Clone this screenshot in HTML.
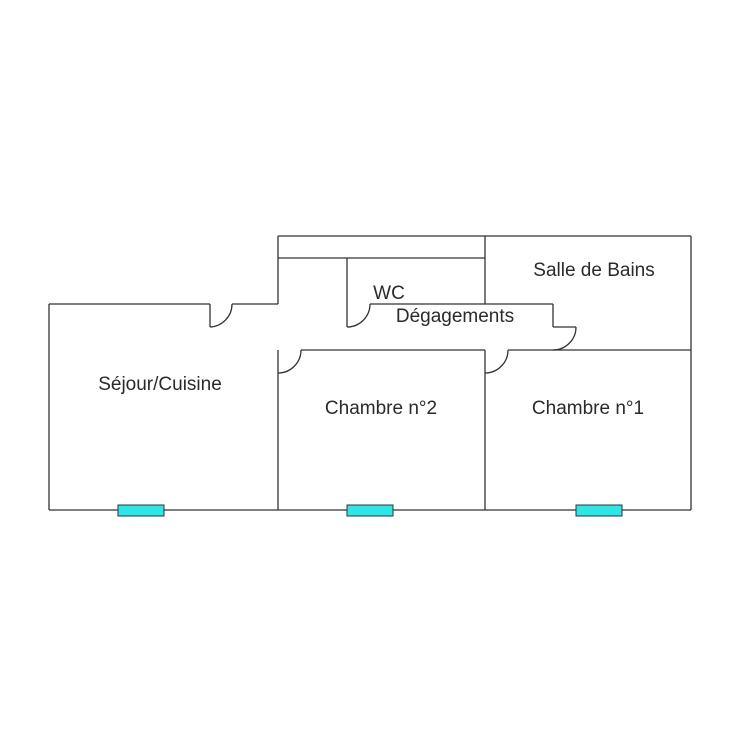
<!DOCTYPE html>
<html><head><meta charset="utf-8"><style>
html,body{margin:0;padding:0;background:#fff;}
svg{display:block}
text{font-family:"Liberation Sans",Arial,sans-serif;font-size:19px;fill:#2a2a2a;}
</style></head><body>
<svg width="753" height="738" viewBox="0 0 753 738" xmlns="http://www.w3.org/2000/svg">
<g stroke="#333" stroke-width="1.3" fill="none">
<line x1="278" y1="236" x2="691" y2="236"/>
<line x1="278" y1="258" x2="485" y2="258"/>
<line x1="278" y1="236" x2="278" y2="304"/>
<line x1="485" y1="236" x2="485" y2="304"/>
<line x1="691" y1="236" x2="691" y2="510"/>
<line x1="49" y1="304" x2="210" y2="304"/>
<line x1="232" y1="304" x2="278" y2="304"/>
<line x1="210" y1="304" x2="210" y2="327"/>
<path d="M210 327 A23 23 0 0 0 232 304"/>
<line x1="49" y1="304" x2="49" y2="510"/>
<line x1="49" y1="510" x2="691" y2="510"/>
<line x1="347" y1="258" x2="347" y2="327"/>
<path d="M347 327 A23 23 0 0 0 370 304"/>
<line x1="370" y1="304" x2="553" y2="304"/>
<line x1="553" y1="304" x2="553" y2="327"/>
<line x1="553" y1="327" x2="576" y2="327"/>
<path d="M576 327 A23 23 0 0 1 553 350"/>
<line x1="553" y1="350" x2="691" y2="350"/>
<line x1="278" y1="350" x2="278" y2="510"/>
<path d="M278 373 A23 23 0 0 0 301 350"/>
<line x1="301" y1="350" x2="485" y2="350"/>
<line x1="485" y1="350" x2="485" y2="510"/>
<path d="M485 373 A23 23 0 0 0 508 350"/>
<line x1="508" y1="350" x2="553" y2="350"/>
</g>
<g fill="#2ee6e6" stroke="#333" stroke-width="1">
<rect x="118" y="505" width="46" height="11"/>
<rect x="347" y="505" width="46" height="11"/>
<rect x="576" y="505" width="46" height="11"/>
</g>
<text x="160" y="390" text-anchor="middle">Séjour/Cuisine</text>
<text x="594" y="276" text-anchor="middle">Salle de Bains</text>
<text x="389" y="299" text-anchor="middle">WC</text>
<text x="455" y="322" text-anchor="middle">Dégagements</text>
<text x="381" y="414" text-anchor="middle">Chambre n°2</text>
<text x="588" y="414" text-anchor="middle">Chambre n°1</text>
</svg>
</body></html>
